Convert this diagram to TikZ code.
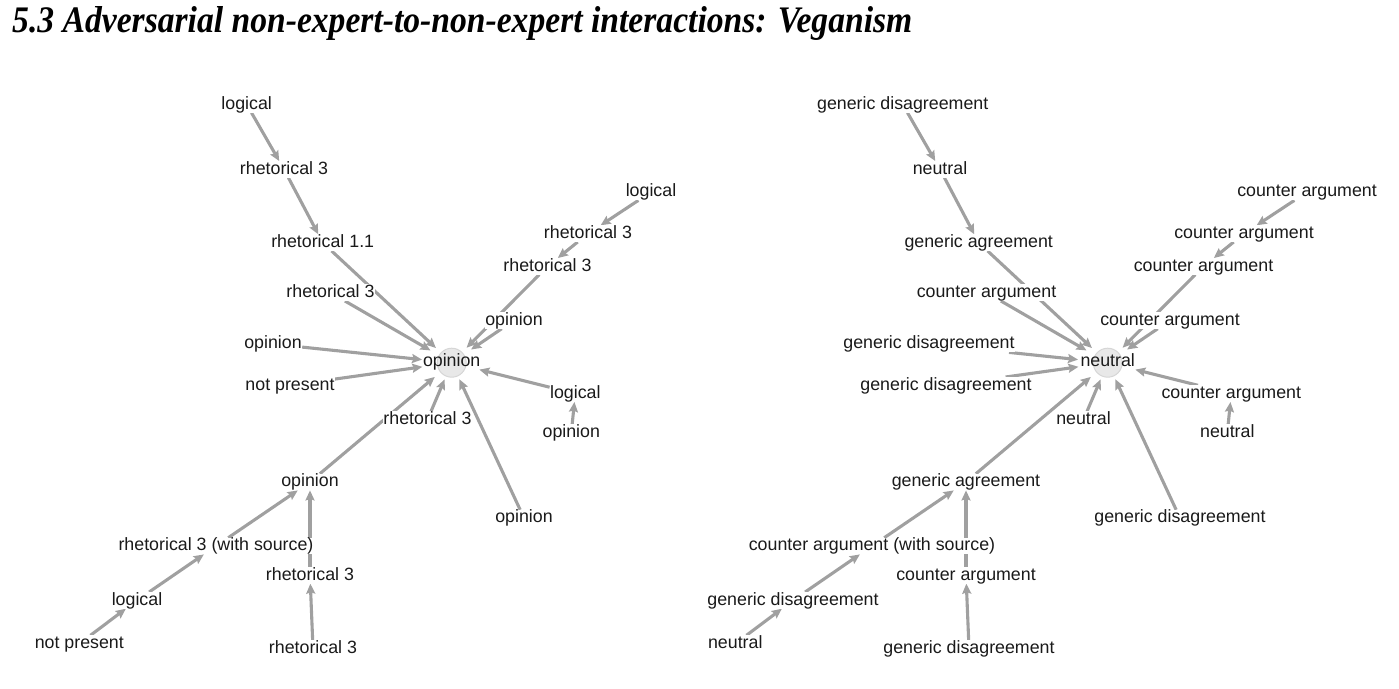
\documentclass[tikz,border=0pt]{standalone}
\usepackage{fontspec}
\usepackage{graphicx}
\usetikzlibrary{arrows.meta,shapes.geometric,backgrounds}
\newfontfamily\labfont{Liberation Sans}
\newfontfamily\ttlfont{Liberation Serif}
\definecolor{edgegray}{HTML}{A0A0A0}
\definecolor{labtext}{HTML}{1A1A1A}
\definecolor{hubfill}{HTML}{E8E8E8}
\definecolor{hubdraw}{HTML}{D6D6D6}
\tikzset{
  lbl/.style={font=\labfont\fontsize{17.8}{20}\selectfont, text=labtext, fill=white,
    inner sep=0.5pt, outer sep=0pt, text height=12.5pt, text depth=3.2pt, anchor=base},
  hublbl/.style={font=\labfont\fontsize{17.8}{20}\selectfont, text=labtext,
    inner sep=0pt, anchor=base},
  hub/.style={circle, minimum size=29pt, inner sep=0pt, fill=hubfill, draw=hubdraw, line width=1pt},
  hubtarget/.style={ellipse, minimum width=60pt, minimum height=34pt, inner sep=0pt},
  edge/.style={draw=edgegray, line width=3.1pt,
    -{Stealth[length=10pt,width=9pt,inset=1.5pt]}}
}
\begin{document}
\begin{tikzpicture}[x=1pt,y=-1pt]
\useasboundingbox (0,0) rectangle (1399,688);
\node[anchor=base west, inner sep=0pt] (title) at (12,32)
  {\resizebox{900pt}{26pt}{\ttlfont\bfseries\itshape 5.3 Adversarial non-expert-to-non-expert interactions: Veganism}};

% ---------------- left graph ----------------
\node[hub] (Lc) at (451.7,362.7) {};
\node[hubtarget] (LC) at (451.7,362.7) {};
\node[hublbl] (Lcl) at (451.7,366.7) {opinion};
\node[lbl] (L1) at (246.7,109) {logical};
\node[lbl] (L2) at (284,174) {rhetorical 3};
\node[lbl] (L3) at (322.7,247.3) {rhetorical 1.1};
\node[lbl] (L4) at (330.5,297.3) {rhetorical 3};
\node[lbl] (L5) at (273,348.7) {opinion};
\node[lbl] (L6) at (290,390) {not present};
\node[lbl] (L7) at (651,196.7) {logical};
\node[lbl] (L8) at (588,238.3) {rhetorical 3};
\node[lbl] (L9) at (547.5,271) {rhetorical 3};
\node[lbl] (L10) at (514,325) {opinion};
\node[lbl] (L11) at (575.3,398.3) {logical};
\node[lbl] (L12) at (571.3,437.3) {opinion};
\node[lbl] (L13) at (524,522.7) {opinion};
\node[lbl] (L14) at (427.5,424.3) {rhetorical 3};
\node[lbl] (L15) at (310,486.7) {opinion};
\node[lbl] (L16) at (216,550.7) {rhetorical 3 (with source)};
\node[lbl] (L17) at (310,580) {rhetorical 3};
\node[lbl] (L18) at (137,605) {logical};
\node[lbl] (L19) at (79.3,648.3) {not present};
\node[lbl] (L20) at (313,653.3) {rhetorical 3};

% ---------------- right graph ----------------
\node[hub] (Rc) at (1107.7,362.7) {};
\node[hubtarget] (RC) at (1107.7,362.7) {};
\node[hublbl] (Rcl) at (1107.7,366.7) {neutral};
\node[lbl] (R1) at (902.7,109) {generic disagreement};
\node[lbl] (R2) at (940,174) {neutral};
\node[lbl] (R3) at (978.7,247.3) {generic agreement};
\node[lbl] (R4) at (986.5,297.3) {counter argument};
\node[lbl] (R5) at (929,348.7) {generic disagreement};
\node[lbl] (R6) at (946,390) {generic disagreement};
\node[lbl] (R7) at (1307,196.7) {counter argument};
\node[lbl] (R8) at (1244,238.3) {counter argument};
\node[lbl] (R9) at (1203.5,271) {counter argument};
\node[lbl] (R10) at (1170,325) {counter argument};
\node[lbl] (R11) at (1231.3,398.3) {counter argument};
\node[lbl] (R12) at (1227.3,437.3) {neutral};
\node[lbl] (R13) at (1180,522.7) {generic disagreement};
\node[lbl] (R14) at (1083.5,424.3) {neutral};
\node[lbl] (R15) at (966,486.7) {generic agreement};
\node[lbl] (R16) at (872,550.7) {counter argument (with source)};
\node[lbl] (R17) at (966,580) {counter argument};
\node[lbl] (R18) at (793,605) {generic disagreement};
\node[lbl] (R19) at (735.3,648.3) {neutral};
\node[lbl] (R20) at (969,653.3) {generic disagreement};

\begin{pgfonlayer}{background}
\foreach \p/\q in {1/2, 2/3, 7/8, 8/9, 12/11, 16/15, 18/16, 19/18, 17/15, 20/17} {
  \draw[edge] (L\p) -- (L\q);
  \draw[edge] (R\p) -- (R\q);
}
\foreach \p in {3,4,5,6,9,10,11,13,14,15} {
  \draw[edge] (L\p) -- (LC);
  \draw[edge] (R\p) -- (RC);
}
\end{pgfonlayer}
\end{tikzpicture}
\end{document}
